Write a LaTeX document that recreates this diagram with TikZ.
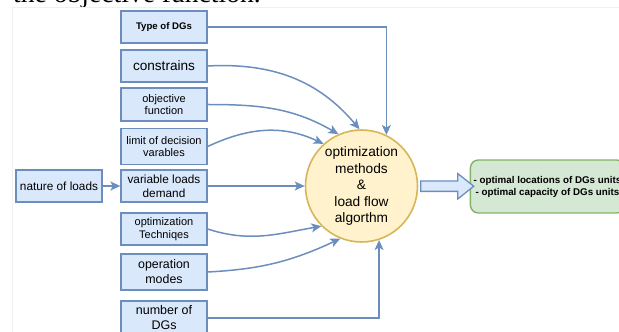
\documentclass[tikz,border=0pt]{standalone}
\usepackage{fontspec}
\setmainfont{Liberation Sans}
\newfontfamily\pageserif{Liberation Serif}
\usetikzlibrary{arrows.meta,shapes.arrows,calc}
\definecolor{bfill}{HTML}{DAE8FC}
\definecolor{bline}{HTML}{6C8EBF}
\definecolor{yfill}{HTML}{FFF2CC}
\definecolor{yline}{HTML}{D6B656}
\definecolor{gfill}{HTML}{D5E8D4}
\definecolor{gline}{HTML}{82B366}
\begin{document}
\begin{tikzpicture}[x=1pt,y=1pt,
  box/.style={draw=bline,fill=bfill,line width=1.3pt,minimum width=86pt,minimum height=32pt,align=center,inner sep=1pt,font=\fontsize{11}{12.8}\selectfont},
  link/.style={draw=bline,line width=1.5pt,-{Stealth[length=10pt,width=9pt,inset=2.5pt]}}]
\useasboundingbox (0,0) rectangle (619,332);
\clip (0,0) rectangle (619,332);
\node[anchor=base west,inner sep=0,font=\pageserif\fontsize{27.6}{30}\selectfont] (cap) at (13,329.5) {the objective function.};
\draw[gray!12] (12.5,0)--(12.5,324.5)--(619,324.5);
\node[box,font=\bfseries\fontsize{9.6}{11}\selectfont] (typ) at (164,305) {Type of DGs};
\node[box,font=\fontsize{13.6}{15}\selectfont] (con) at (164,266) {constrains};
\node[box,minimum height=33pt] (obj) at (164,227.5) {objective\\function};
\node[box,minimum height=36pt] (lim) at (164,185.5) {limit of decision\\varables};
\node[box,font=\fontsize{11.8}{14}\selectfont] (var) at (164,146) {variable loads\\demand};
\node[box,font=\fontsize{11.8}{14}\selectfont] (nat) at (59,146) {nature of loads};
\node[box] (opt) at (164,103) {optimization\\Techniqes};
\node[box,minimum height=36pt,font=\fontsize{12.4}{15}\selectfont] (mod) at (164,60) {operation\\modes};
\node[box,minimum height=34pt,font=\fontsize{12.5}{15}\selectfont] (num) at (164,14) {number of\\DGs};
\node[circle,draw=yline,fill=yfill,line width=1.6pt,minimum size=112pt,inner sep=0,align=center,font=\fontsize{13.7}{16.5}\selectfont] (alg) at (361.5,146) {optimization\\methods\\\&\\load flow\\algorthm};
\node[draw=gline,fill=gfill,line width=1.4pt,rounded corners=8pt,minimum width=153pt,minimum height=53pt,align=center,font=\bfseries\fontsize{9.8}{12}\selectfont] (res) at (547.5,145.5) {- optimal locations of DGs units\\- optimal capacity of DGs units};
\node[single arrow,draw=bline,fill=bfill,line width=1.3pt,minimum height=53pt,inner xsep=0pt,inner ysep=4.5pt,single arrow head extend=7.5pt,single arrow tip angle=77] (fat) at ($(alg.east)!.5!(res.west)$) {};
\draw[link] (typ.east) -| (alg.64);
\draw[link] (con.east) to[out=3,in=130] (alg.92);
\draw[link] (obj.east) to[out=0,in=150] (alg.114);
\draw[link] (lim.east) to[out=25,in=155] (alg.132);
\draw[link] (nat) -- (var);
\draw[link] (var) -- (alg);
\draw[link] (opt.east) to[out=-18,in=190] (alg.225);
\draw[link] (mod.east) to[out=3,in=205] (alg.248);
\draw[link] (num.east) -| (alg.288);
\end{tikzpicture}
\end{document}
